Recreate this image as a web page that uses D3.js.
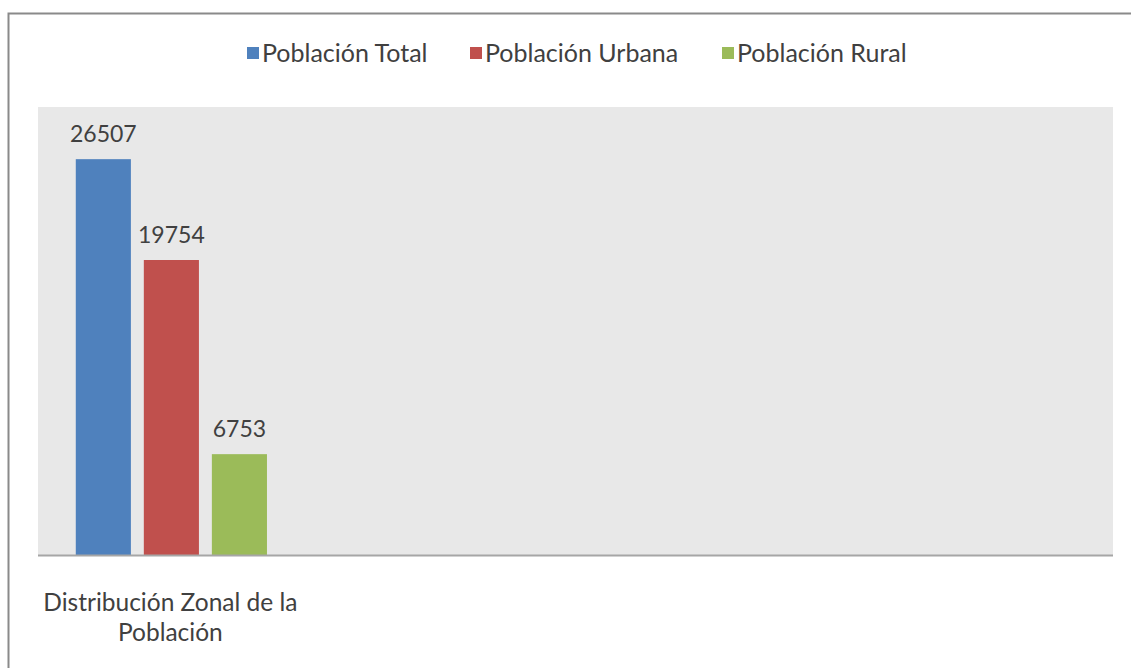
<!DOCTYPE html>
<html>
<head>
<meta charset="utf-8">
<script src="https://cdn.jsdelivr.net/npm/d3@7"></script>
<style>
  body { margin: 0; background: #fff; }
  svg { display: block; }
</style>
</head>
<body>
<div id="chart"></div>
<script>
// Data
const categories = ["Distribución Zonal de la Población"]
const series = ["Población Total", "Población Urbana", "Población Rural"]
const values = [26507, 19754, 6753]
const colors = ["#4F81BD", "#C0504D", "#9BBB59"]

// Constants
const width = 1131
const height = 668
const plot = { left: 38, top: 107, right: 1113, bottom: 555 }
// the chart frame was sized for four category slots, only the first is used
const slots = 4
const font = "Lato, 'Open Sans', sans-serif"
const textColor = "#404040"

const svg = d3.select("#chart")
    .append("svg")
    .attr("width", width)
    .attr("height", height)

// outer frame (runs off the right and bottom of the picture)
svg.append("rect")
    .attr("x", 8.5)
    .attr("y", 13.5)
    .attr("width", width + 20)
    .attr("height", height + 20)
    .attr("fill", "#fff")
    .attr("stroke", "#8a8a8a")
    .attr("stroke-width", 2)

// plot background
svg.append("rect")
    .attr("x", plot.left)
    .attr("y", plot.top)
    .attr("width", plot.right - plot.left)
    .attr("height", plot.bottom - plot.top)
    .attr("fill", "#e8e8e8")

// Scales
const slotWidth = (plot.right - plot.left) / slots
const x0 = d3.scaleBand()
    .domain(categories)
    .range([plot.left, plot.left + slotWidth * categories.length])

const x1 = d3.scaleBand()
    .domain(series)
    .range([0, x0.bandwidth()])
    .paddingInner(0.19)
    .paddingOuter(0.57)

const y = d3.scaleLinear()
    .domain([0, 30000])
    .range([plot.bottom, plot.top])

// Bars
const g = svg.append("g")
categories.forEach(cat => {
    const grp = g.append("g").attr("transform", `translate(${x0(cat) - 1},0)`)
    grp.selectAll("rect")
        .data(series)
        .join("rect")
        .attr("x", s => x1(s))
        .attr("y", (s, i) => y(values[i]))
        .attr("width", x1.bandwidth())
        .attr("height", (s, i) => y(0) - y(values[i]))
        .attr("fill", (s, i) => colors[i])

    grp.selectAll("text.val")
        .data(series)
        .join("text")
        .attr("class", "val")
        .attr("x", s => x1(s) + x1.bandwidth() / 2)
        .attr("y", (s, i) => y(values[i]) - 17)
        .attr("text-anchor", "middle")
        .style("font-family", font)
        .style("font-size", "23px")
        .style("fill", textColor)
        .text((s, i) => values[i])
})

// x axis baseline
const xAxis = d3.axisBottom(x0).tickSize(0).tickFormat("")
const xAxisGroup = svg.append("g")
    .attr("transform", `translate(0, ${plot.bottom})`)
    .call(xAxis)
xAxisGroup.select(".domain").remove()
xAxisGroup.append("line")
    .attr("x1", plot.left)
    .attr("x2", plot.right)
    .attr("y1", 0.5)
    .attr("y2", 0.5)
    .attr("stroke", "#a6a6a6")
    .attr("stroke-width", 2)

// category label, wrapped onto two lines
categories.forEach(cat => {
    const words = cat.split(" ")
    const lines = [words.slice(0, 4).join(" "), words.slice(4).join(" ")]
    const cx = x0(cat) + x0.bandwidth() / 2 - 2
    svg.append("text")
        .attr("x", cx)
        .attr("y", 611)
        .attr("text-anchor", "middle")
        .style("font-family", font)
        .style("font-size", "24.5px")
        .style("fill", textColor)
        .selectAll("tspan")
        .data(lines)
        .join("tspan")
        .attr("x", cx)
        .attr("dy", (d, i) => i === 0 ? 0 : 30)
        .text(d => d)
})

// Legend
const legendX = [247, 470, 722]
const legend = svg.append("g")
series.forEach((s, i) => {
    legend.append("rect")
        .attr("x", legendX[i])
        .attr("y", 47)
        .attr("width", 12)
        .attr("height", 12)
        .attr("fill", colors[i])
    legend.append("text")
        .attr("x", legendX[i] + 15)
        .attr("y", 62)
        .style("font-family", font)
        .style("font-size", "25px")
        .style("fill", textColor)
        .text(s)
})
</script>
</body>
</html>
